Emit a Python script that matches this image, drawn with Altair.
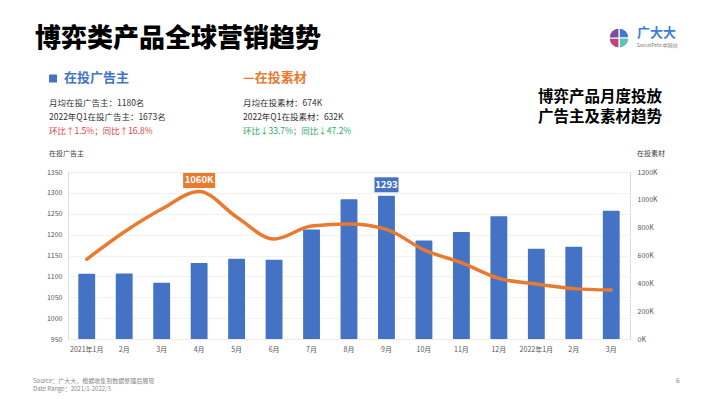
import json
import altair as alt
import pandas as pd

FONT = "Noto Sans CJK SC"

month_labels = ["2021年1月", "2月", "3月", "4月", "5月", "6月", "7月", "8月", "9月",
                "10月", "11月", "12月", "2022年1月", "2月", "3月"]
advertisers = [1106, 1107, 1085, 1132, 1142, 1140, 1212, 1285, 1293,
               1186, 1206, 1244, 1166, 1171, 1257]
creatives_k = [573, 769, 934, 1060, 877, 718, 812, 826, 788,
               640, 548, 436, 395, 362, 352]

df = pd.DataFrame({
    "idx": list(range(len(month_labels))),
    "adv": advertisers,
    "cre": [v * 1000 for v in creatives_k],
})

BLUE = "#4472C4"
ORANGE = "#E97A2F"

label_expr = json.dumps(month_labels, ensure_ascii=False) + "[datum.value]"

base = alt.Chart(df)

x_axis = alt.Axis(labelExpr=label_expr, labelAngle=0, labelFontSize=7,
                  labelColor="#555", labelPadding=6, domain=False,
                  ticks=False, grid=False, labelFont=FONT, labelOverlap=False)
x_scale = alt.Scale(paddingInner=0.55, paddingOuter=0.275)


def xe():
    return alt.X("idx:O", title=None, scale=x_scale, axis=x_axis)


adv_scale = alt.Scale(domain=[950, 1350], zero=False, nice=False)
adv_axis = alt.Axis(values=list(range(950, 1351, 50)), tickCount=9, format="d",
                    labelFontSize=7, labelColor="#555", labelPadding=6, domain=False,
                    ticks=False, labelOverlap=False, grid=True, gridColor="#EFEFEF",
                    gridWidth=0.8, labelFont=FONT)


def ye_adv():
    return alt.Y("adv:Q", title=None, scale=adv_scale, axis=adv_axis)


cre_scale = alt.Scale(domain=[0, 1200000], nice=False)
cre_axis = alt.Axis(orient="right", values=list(range(0, 1200001, 200000)), tickCount=7,
                    labelExpr="datum.value/1000 + 'K'", labelFontSize=7,
                    labelColor="#555", labelPadding=7, domain=False, ticks=False,
                    labelOverlap=False, grid=False, labelFont=FONT)


def ye_cre():
    return alt.Y("cre:Q", title=None, scale=cre_scale, axis=cre_axis)


bars = base.mark_bar(color=BLUE, cornerRadiusTopLeft=1, cornerRadiusTopRight=1).encode(
    x=xe(), y=ye_adv(), y2=alt.datum(950))

bar_box = base.transform_joinaggregate(m="max(adv)").transform_filter(
    "datum.adv == datum.m").mark_point(
    shape="M-1,-0.625 L1,-0.625 L1,0.625 L-1,0.625 Z", size=576, filled=True,
    opacity=1, color=BLUE, yOffset=-11).encode(x=xe(), y=ye_adv())
bar_lab = base.transform_joinaggregate(m="max(adv)").transform_filter(
    "datum.adv == datum.m").mark_text(
    color="white", fontSize=9.5, fontWeight="bold", yOffset=-11, font=FONT).encode(
    x=xe(), y=ye_adv(), text="adv:Q")

left = alt.layer(bars, bar_box, bar_lab)

line = base.mark_line(color=ORANGE, strokeWidth=3.5, interpolate="monotone",
                      strokeCap="round").encode(x=xe(), y=ye_cre())
line_box = base.transform_joinaggregate(m="max(cre)").transform_filter(
    "datum.cre == datum.m").mark_point(
    shape="M-1,-0.469 L1,-0.469 L1,0.469 L-1,0.469 Z", size=1024, filled=True, opacity=1,
    color=ORANGE, yOffset=-11).encode(x=xe(), y=ye_cre())
line_lab = base.transform_joinaggregate(m="max(cre)").transform_filter(
    "datum.cre == datum.m").transform_calculate(
    t="datum.cre/1000 + 'K'").mark_text(
    color="white", fontSize=9.5, fontWeight="bold", yOffset=-11, font=FONT).encode(
    x=xe(), y=ye_cre(), text="t:N")

right = alt.layer(line, line_box, line_lab)

one = alt.Data(values=[{"a": 1}])


def txt(text, x, y, size, color="#333", weight="normal", align="left"):
    return alt.Chart(one).mark_text(
        text=text, fontSize=size, color=color, fontWeight=weight, align=align,
        baseline="middle", font=FONT).encode(x=alt.value(x), y=alt.value(y))


texts = [
    txt("博弈类产品全球营销趋势", -33, -133, 26, "#000", 900),
    txt("广大大", 569, -139, 13, "#3B7DD8", "bold"),
    txt("SocialPeta 中国站", 569, -127, 5, "#777"),
    txt("在投广告主", -4, -94, 13, BLUE, "bold"),
    txt("—在投素材", 175, -94, 13, ORANGE, "bold"),
    txt("月均在投广告主：1180名", -19, -69, 8.5),
    txt("2022年Q1在投广告主：1673名", -19, -55, 8.5),
    txt("环比↑1.5%；同比↑16.8%", -19, -41, 8.5, "#E0404A"),
    txt("月均在投素材：674K", 175, -69, 8.5),
    txt("2022年Q1在投素材：632K", 175, -55, 8.5),
    txt("环比↓33.7%；同比↓47.2%", 175, -41, 8.5, "#2BAA6A"),
    txt("博弈产品月度投放", 594, -75, 15.5, "#000", "bold", "right"),
    txt("广告主及素材趋势", 594, -55, 15.5, "#000", "bold", "right"),
    txt("在投广告主", -19, -18, 7, "#444"),
    txt("在投素材", 569, -18, 7, "#444"),
    txt("Source：广大大，根据收集到数据整理后展现", -35, 209, 6, "#888"),
    txt("Date Range：2021/1-2022/3", -35, 217, 6, "#888"),
    txt("6", 608, 209, 6.5, "#888"),
]

square = alt.Chart(one).mark_point(shape="square", size=64, filled=True, opacity=1,
                                   color=BLUE).encode(x=alt.value(-15), y=alt.value(-93.5))

logo_df = pd.DataFrame({
    "t0": [0, 1.5708, 3.1416, 4.7124],
    "t1": [1.5708, 3.1416, 4.7124, 6.2832],
    "c": ["#3D7ACF", "#5EC2B0", "#C2427A", "#7B4FA0"],
})
logo = alt.Chart(logo_df).mark_arc(radius=10, stroke="white", strokeWidth=1.2).encode(
    x=alt.value(551), y=alt.value(-134),
    theta=alt.Theta("t0:Q", scale=None), theta2="t1:Q",
    color=alt.Color("c:N", scale=None))

chart = alt.layer(left, right, square, logo, *texts).resolve_scale(y="independent").properties(
    width=562, height=167,
    autosize=alt.AutoSizeParams(type="none"),
    padding={"left": 60, "top": 164, "right": 72, "bottom": 56},
).configure_view(stroke=None).configure(font=FONT)

chart.save("out.html", embed_options={"renderer": "svg", "actions": False})
